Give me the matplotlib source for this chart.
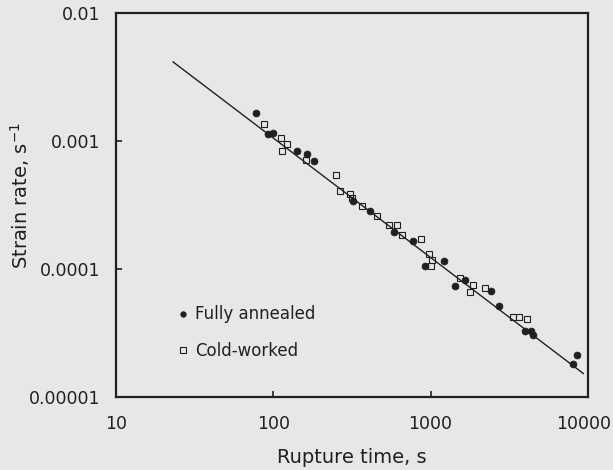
import matplotlib
matplotlib.use('Agg')
import matplotlib.pyplot as plt
from matplotlib.transforms import ScaledTranslation

plt.rcParams['font.family'] = ['DejaVu Sans']
plt.rcParams['mathtext.fontset'] = 'dejavusans'

BG = '#e6e7e9'
INK = '#231f20'

# fully annealed (filled circles)
ann_t = [77.6, 92.1, 100, 140.8, 164.4, 182.7, 319.6, 411.6, 584.8, 768.8,
         920.4, 1215, 1661, 1422, 2436, 2706, 3978, 4355, 4492, 8490, 8054]
ann_rate = [1.646e-3, 1.128e-3, 1.149e-3, 8.31e-4, 7.87e-4, 7.04e-4, 3.38e-4,
            2.85e-4, 1.935e-4, 1.670e-4, 1.061e-4, 1.155e-4, 8.18e-5, 7.34e-5,
            6.73e-5, 5.19e-5, 3.27e-5, 3.28e-5, 3.06e-5, 2.13e-5, 1.827e-5]

# cold-worked (open squares)
cw_t = [87.6, 111.6, 121.6, 113.9, 161.3, 250.2, 267.3, 307.2, 318.6, 366.1,
        457.2, 545.0, 615.5, 657.4, 870.9, 980.2, 1017, 1005, 1548, 1872,
        1778, 2205, 3346, 3633, 4127]
cw_rate = [1.358e-3, 1.065e-3, 9.47e-4, 8.31e-4, 7.14e-4, 5.43e-4, 4.09e-4,
           3.85e-4, 3.62e-4, 3.11e-4, 2.60e-4, 2.21e-4, 2.21e-4, 1.857e-4,
           1.709e-4, 1.322e-4, 1.182e-4, 1.061e-4, 8.58e-5, 7.50e-5, 6.61e-5,
           7.17e-5, 4.22e-5, 4.22e-5, 4.05e-5]

# fitted line end points
fit_t = [23.1, 9360]
fit_rate = [4.16e-3, 1.53e-5]

x_ticks = [10, 100, 1000, 10000]
x_labels = ['10', '100', '1000', '10000']
y_ticks = [1e-5, 1e-4, 1e-3, 1e-2]
y_labels = ['0.00001', '0.0001', '0.001', '0.01']

fig = plt.figure(figsize=(6.13, 4.70), dpi=100, facecolor=BG)
ax = fig.add_axes([0.189, 0.155, 0.770, 0.817], facecolor=BG)

ax.plot(fit_t, fit_rate, color=INK, lw=1.0, zorder=2)
ax.plot(ann_t, ann_rate, 'o', ms=5, mfc=INK, mec=INK, mew=0.5,
        label='Fully annealed', zorder=3)
ax.plot(cw_t, cw_rate, 's', ms=5, mfc='none', mec=INK, mew=0.8,
        label='Cold-worked', zorder=3)

ax.set_xscale('log')
ax.set_yscale('log')
ax.set_xlim(10, 10000)
ax.set_ylim(1e-5, 1e-2)
ax.set_xticks(x_ticks)
ax.set_xticklabels(x_labels)
ax.set_yticks(y_ticks)
ax.set_yticklabels(y_labels)
ax.minorticks_off()

ax.tick_params(axis='x', direction='in', length=4, width=1.2, color=INK,
               labelcolor=INK, labelsize=12.5, pad=13)
ax.tick_params(axis='y', direction='in', length=4, width=1.2, color=INK,
               labelcolor=INK, labelsize=12.5, pad=11.5)

# last x label sits at the right edge, nudge it in a little
last = ax.get_xticklabels()[-1]
last.set_transform(last.get_transform() +
                   ScaledTranslation(-3 / 72, 0, fig.dpi_scale_trans))

for s in ax.spines.values():
    s.set_linewidth(1.6)
    s.set_color(INK)

ax.set_xlabel('Rupture time, s', fontsize=14, color=INK)
ax.set_ylabel('Strain rate, s$^{-1}$', fontsize=14, color=INK)
ax.xaxis.set_label_coords(0.5, -0.132)
ax.yaxis.set_label_coords(-0.178, 0.526)

leg = ax.legend(loc='center left', bbox_to_anchor=(0.131, 0.168), frameon=False,
                fontsize=12, handlelength=0.6, handletextpad=0.42,
                labelspacing=1.1, borderpad=0, borderaxespad=0, markerscale=0.8)
for t in leg.get_texts():
    t.set_color(INK)

fig.savefig('out.png', dpi=100, facecolor=BG)
